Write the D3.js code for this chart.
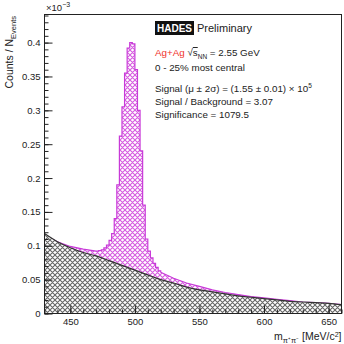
<!DOCTYPE html>
<html><head><meta charset="utf-8">
<script src="https://cdn.jsdelivr.net/npm/d3@7"></script>
<style>body{margin:0;background:#fff}svg{display:block;font-family:"Liberation Sans",Arial,sans-serif}</style>
</head><body><svg id="c" width="344" height="344"></svg>
<script>
// ---- data (units of 1e-3 counts / N_events) ----
const bgMass  = [430,440,450,460,470,480,490,500,510,520,530,540,550,560,570,580,590,600,610,620,630,640,650,660];
const bgValue = [0.118,0.106,0.097,0.090,0.085,0.078,0.071,0.064,0.057,0.050,0.045,0.039,0.035,0.032,0.029,0.026,0.024,0.022,0.020,0.018,0.017,0.016,0.015,0.013];
// signal+background, smooth left tail
const totLeftMass  = [430,440,450,460,470];
const totLeftValue = [0.116,0.106,0.099,0.095,0.092];
// signal+background histogram, 2 MeV bins (low edges)
const peakBinLow = [470,472,474,476,478,480,482,484,486,488,490,492,494,496,498,500,502,504,506,508,510,512,514,516,518];
const peakValue  = [0.092,0.093,0.094,0.097,0.101,0.108,0.118,0.140,0.190,0.262,0.305,0.355,0.392,0.400,0.398,0.360,0.300,0.240,0.160,0.110,0.092,0.082,0.074,0.068,0.063];
const binWidth = 2;
// signal+background, smooth right tail
const totRightMass  = [520,530,540,550,560,570,580,590,600,610,620,630,640,650,660];
const totRightValue = [0.061,0.052,0.045,0.040,0.035,0.031,0.028,0.025,0.023,0.021,0.019,0.017,0.016,0.015,0.013];

const xTickValues = [450,500,550,600,650];
const yTickValues = [0,0.05,0.1,0.15,0.2,0.25,0.3,0.35,0.4];
const yTickLabels = ["0","0.05","0.1","0.15","0.2","0.25","0.3","0.35","0.4"];

// ---- layout ----
const L=44.5, R=341.5, T=14.5, B=313.5;
const svg = d3.select("#c");
const x = d3.scaleLinear().domain([430,660]).range([L,R]);
const y = d3.scaleLinear().domain([0,0.4415]).range([B,T]);

const defs = svg.append("defs");
function hatch(id,color){
  const p = defs.append("pattern").attr("id",id).attr("patternUnits","userSpaceOnUse")
    .attr("width",5).attr("height",5);
  p.append("path").attr("d","M0,0 L5,5 M5,0 L0,5 M-1,4 L1,6 M4,-1 L6,1 M4,6 L6,4 M-1,1 L1,-1")
   .attr("stroke",color).attr("stroke-width",1.1).attr("fill","none");
}
hatch("hm","#d65ae0");
hatch("hk","#666");

const clip = defs.append("clipPath").attr("id","pc");
clip.append("rect").attr("x",L).attr("y",T).attr("width",R-L).attr("height",B-T);

// total (signal+bg) outline points
const totPts = [];
totLeftMass.forEach((m,i)=>totPts.push([m,totLeftValue[i]]));
peakBinLow.forEach((m,i)=>{totPts.push([m,peakValue[i]]);totPts.push([m+binWidth,peakValue[i]]);});
totRightMass.forEach((m,i)=>totPts.push([m,totRightValue[i]]));

const g = svg.append("g").attr("clip-path","url(#pc)");
const area = d3.area().x(d=>x(d[0])).y0(y(0)).y1(d=>y(d[1]));
const line = d3.line().x(d=>x(d[0])).y(d=>y(d[1]));

g.append("path").datum(totPts).attr("d",area).attr("fill","url(#hm)");
g.append("path").datum(totPts).attr("d",line).attr("fill","none").attr("stroke","#c83ad8").attr("stroke-width",1.2);
g.append("line").attr("x1",L+0.5).attr("x2",L+0.5).attr("y1",y(totLeftValue[0])).attr("y2",B).attr("stroke","#c83ad8").attr("stroke-width",1.2);

const bgPts = bgMass.map((m,i)=>[m,bgValue[i]]);
const bgArea = d3.area().x(d=>x(d[0])).y0(y(0)).y1(d=>y(d[1])).curve(d3.curveMonotoneX);
const bgLine = d3.line().x(d=>x(d[0])).y(d=>y(d[1])).curve(d3.curveMonotoneX);
g.append("path").datum(bgPts).attr("d",bgArea).attr("fill","#fff");
g.append("path").datum(bgPts).attr("d",bgArea).attr("fill","url(#hk)");
g.append("path").datum(bgPts).attr("d",bgLine).attr("fill","none").attr("stroke","#333").attr("stroke-width",1.2);

// frame
svg.append("rect").attr("x",L).attr("y",T).attr("width",R-L).attr("height",B-T)
  .attr("fill","none").attr("stroke","#222").attr("stroke-width",1);

// axes (ticks inside)
const fs = 9.5;
const xAx = svg.append("g").attr("transform",`translate(0,${B})`)
  .call(d3.axisBottom(x).tickValues(xTickValues).tickSize(-8).tickPadding(3).tickFormat(d3.format("d")));
const xMinor = svg.append("g").attr("transform",`translate(0,${B})`)
  .call(d3.axisBottom(x).tickValues(d3.range(430,661,10)).tickSize(-4).tickFormat(""));
const yAx = svg.append("g").attr("transform",`translate(${L},0)`)
  .call(d3.axisLeft(y).tickValues(yTickValues).tickSize(-8).tickPadding(4).tickFormat((d,i)=>yTickLabels[i]));
const yMinor = svg.append("g").attr("transform",`translate(${L},0)`)
  .call(d3.axisLeft(y).tickValues(d3.range(0,0.441,0.01)).tickSize(-4).tickFormat(""));
[xAx,xMinor,yAx,yMinor].forEach(a=>{a.select(".domain").remove();a.selectAll("line").attr("stroke","#222");});
[xAx,yAx].forEach(a=>a.selectAll("text").attr("font-size",fs).attr("fill","#222").attr("font-family","Liberation Sans, Arial, sans-serif"));
xAx.selectAll("text").attr("dy","0.9em");

// exponent
const ex = svg.append("text").attr("x",46).attr("y",11).attr("font-size",fs).attr("fill","#222");
ex.append("tspan").text("×10");
ex.append("tspan").attr("dy",-4).attr("font-size",7).text("−3");

// axis titles
const yt = svg.append("text").attr("transform","translate(13,16) rotate(-90)").attr("text-anchor","end")
  .attr("font-size",10.5).attr("fill","#222");
yt.append("tspan").text("Counts / N");
yt.append("tspan").attr("dy",2.5).attr("font-size",7.5).text("Events");

const xt = svg.append("text").attr("x",R).attr("y",340).attr("text-anchor","end").attr("font-size",10.5).attr("fill","#222");
xt.append("tspan").text("m");
xt.append("tspan").attr("dy",2.5).attr("font-size",7.5).text("π⁺π⁻");
xt.append("tspan").attr("dy",-2.5).text(" [MeV/c");
xt.append("tspan").attr("dy",-3.5).attr("font-size",7).text("2");
xt.append("tspan").attr("dy",3.5).text("]");

// labels
const tx = 155;
const tfs = 9.8;
svg.append("rect").attr("x",155).attr("y",21).attr("width",39).attr("height",14).attr("fill","#111");
svg.append("text").attr("x",174.5).attr("y",32).attr("text-anchor","middle").attr("font-size",10).attr("font-weight","bold").attr("fill","#fff").text("HADES");
svg.append("text").attr("x",197).attr("y",32).attr("font-size",11).attr("fill","#222").text("Preliminary");

const l1 = svg.append("text").attr("x",tx).attr("y",56).attr("font-size",tfs).attr("fill","#222");
l1.append("tspan").attr("fill","#f0302a").text("Ag+Ag ");
l1.append("tspan").text("√");
l1.append("tspan").attr("text-decoration","overline").text("s");
l1.append("tspan").attr("dy",2.5).attr("font-size",6.5).text("NN");
l1.append("tspan").attr("dy",-2.5).text(" = 2.55 GeV");
svg.append("text").attr("x",tx).attr("y",71).attr("font-size",tfs).attr("fill","#222").text("0 - 25% most central");
const l3 = svg.append("text").attr("x",tx).attr("y",92).attr("font-size",tfs).attr("fill","#222");
l3.append("tspan").text("Signal (μ ± 2σ) = (1.55 ± 0.01) × 10");
l3.append("tspan").attr("dy",-4).attr("font-size",6.5).text("5");
svg.append("text").attr("x",tx).attr("y",105).attr("font-size",tfs).attr("fill","#222").text("Signal / Background = 3.07");
svg.append("text").attr("x",tx).attr("y",118).attr("font-size",tfs).attr("fill","#222").text("Significance = 1079.5");
</script></body></html>
